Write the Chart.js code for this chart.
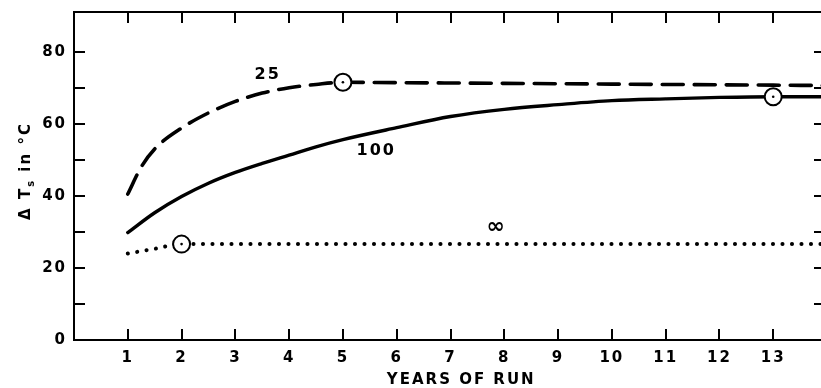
<!DOCTYPE html>
<html>
<head>
<meta charset="utf-8">
<script src="https://cdn.jsdelivr.net/npm/chart.js@4/dist/chart.umd.min.js"></script>
<style>
  html, body { margin: 0; padding: 0; background: #fff; overflow: hidden; }
  #wrap { width: 827px; height: 388px; }
</style>
</head>
<body>
<div id="wrap"><canvas id="c" width="827" height="388"></canvas></div>
<script>
// Surface temperature rise (deg C) against years of run, one curve per case
const years25  = [1, 1.25, 1.5, 2, 2.5, 3, 3.5, 4, 4.5, 5, 6, 7, 8, 9, 10, 11, 12, 13, 14];
const dT25     = [40.5, 48, 53, 58.8, 63, 66.2, 68.5, 70, 70.9, 71.5, 71.4, 71.3, 71.2, 71.1, 71, 70.9, 70.8, 70.7, 70.6];

const years100 = [1, 1.5, 2, 2.5, 3, 3.5, 4, 4.5, 5, 6, 7, 8, 9, 10, 11, 12, 13, 14];
const dT100    = [29.8, 35.3, 39.8, 43.5, 46.5, 49, 51.3, 53.6, 55.6, 58.9, 62, 64, 65.3, 66.4, 66.9, 67.3, 67.5, 67.5];

const yearsInf = [1, 1.5, 2, 14];
const dTInf    = [24, 25.3, 26.6, 26.6];

// circled points on the curves
const markYears = [2, 5, 13];
const markDT    = [26.6, 71.5, 67.5];

// axis ticks
const xTickValues  = [1, 2, 3, 4, 5, 6, 7, 8, 9, 10, 11, 12, 13];
const yTickValues  = [0, 20, 40, 60, 80];
const yMinorValues = [10, 30, 50, 70];

const curveNames = ['25', '100', '\u221E'];

const toPoints = (xs, ys) => xs.map((x, i) => ({ x: x, y: ys[i] }));

const FONT = '"DejaVu Sans", "Liberation Sans", sans-serif';

// inward tick marks on all four sides plus the frame lines
const framePlugin = {
  id: 'frameTicks',
  afterDatasetsDraw(chart) {
    const { ctx, chartArea: a, scales: { x, y } } = chart;
    const len = 11;
    ctx.save();
    ctx.strokeStyle = '#000';
    ctx.lineWidth = 2;
    ctx.lineCap = 'butt';
    ctx.beginPath();
    ctx.moveTo(a.right + 2, a.top);
    ctx.lineTo(a.left, a.top);
    ctx.lineTo(a.left, a.bottom);
    ctx.lineTo(a.right + 2, a.bottom);
    ctx.moveTo(a.right, a.top);
    ctx.lineTo(a.right, a.bottom);
    xTickValues.forEach(v => {
      const px = Math.round(x.getPixelForValue(v));
      ctx.moveTo(px, a.bottom);
      ctx.lineTo(px, a.bottom - len);
      ctx.moveTo(px, a.top);
      ctx.lineTo(px, a.top + len);
    });
    yTickValues.concat(yMinorValues).forEach(v => {
      if (v === 0) return;
      const py = Math.round(y.getPixelForValue(v));
      ctx.moveTo(a.left, py);
      ctx.lineTo(a.left + len, py);
      ctx.moveTo(a.right, py);
      ctx.lineTo(a.right - len - 2, py);
    });
    ctx.stroke();
    ctx.restore();
  }
};

// curve names and axis titles
const textPlugin = {
  id: 'chartText',
  afterDraw(chart, args, opts) {
    const { ctx, chartArea: a, scales: { x, y } } = chart;
    ctx.save();
    ctx.fillStyle = '#000';
    ctx.letterSpacing = '2px';
    ctx.textAlign = 'center';
    ctx.textBaseline = 'middle';

    opts.labels.forEach((lab, i) => {
      ctx.font = lab.font;
      ctx.fillText(curveNames[i], x.getPixelForValue(lab.at[0]), y.getPixelForValue(lab.at[1]));
    });

    // x axis title
    ctx.font = 'bold 15px ' + FONT;
    ctx.fillText('YEARS OF RUN', x.getPixelForValue(7.2), 380);

    // y axis title, rotated, with subscript s
    ctx.translate(25, (a.top + a.bottom) / 2 - 5);
    ctx.rotate(-Math.PI / 2);
    ctx.textAlign = 'left';
    ctx.textBaseline = 'alphabetic';
    const big = 'bold 15px ' + FONT, small = 'bold 10px ' + FONT;
    const parts = [['\u0394 T', big, 0], ['s', small, 4], [' in \u00B0C', big, 0]];
    let total = 0;
    parts.forEach(p => { ctx.font = p[1]; total += ctx.measureText(p[0]).width; });
    let cx = -total / 2;
    parts.forEach(p => {
      ctx.font = p[1];
      ctx.fillText(p[0], cx, 5 + p[2]);
      cx += ctx.measureText(p[0]).width;
    });
    ctx.restore();
  }
};

const curveStyle = {
  borderColor: '#000',
  pointRadius: 0,
  cubicInterpolationMode: 'monotone',
  fill: false,
  borderCapStyle: 'round',
  borderJoinStyle: 'round'
};

new Chart(document.getElementById('c'), {
  type: 'line',
  data: {
    datasets: [
      {
        label: 'marker centres',
        data: toPoints(markYears, markDT),
        showLine: false,
        pointRadius: 1.3,
        pointBackgroundColor: '#000',
        pointBorderWidth: 0,
        order: 0
      },
      {
        label: 'markers',
        data: toPoints(markYears, markDT),
        showLine: false,
        pointRadius: 8.5,
        pointBackgroundColor: '#fff',
        pointBorderColor: '#000',
        pointBorderWidth: 2,
        order: 1
      },
      Object.assign({
        label: curveNames[0],
        data: toPoints(years25, dT25),
        borderWidth: 3.6,
        borderDash: [21, 11],
        order: 2
      }, curveStyle),
      Object.assign({
        label: curveNames[1],
        data: toPoints(years100, dT100),
        borderWidth: 3.4,
        order: 3
      }, curveStyle),
      Object.assign({
        label: curveNames[2],
        data: toPoints(yearsInf, dTInf),
        borderWidth: 4,
        borderDash: [0.1, 9.4],
        order: 4
      }, curveStyle)
    ]
  },
  options: {
    responsive: false,
    animation: false,
    events: [],
    layout: { autoPadding: false, padding: { top: 12, left: 0, right: 0, bottom: 0 } },
    plugins: {
      legend: { display: false },
      tooltip: { enabled: false },
      chartText: {
        labels: [
          { at: [3.6, 73.6], font: 'bold 16px ' + FONT },
          { at: [5.62, 52.6], font: 'bold 16px ' + FONT },
          { at: [7.86, 31.4], font: 'bold 22px ' + FONT }
        ]
      }
    },
    scales: {
      x: {
        type: 'linear',
        min: 0,
        max: 14,
        afterBuildTicks: s => { s.ticks = xTickValues.map(v => ({ value: v })); },
        afterFit: s => { s.height = 48; s.paddingLeft = 0; s.paddingRight = 0; },
        grid: { display: false, drawTicks: false },
        border: { display: false },
        ticks: {
          color: '#000',
          padding: 9,
          maxRotation: 0,
          autoSkip: false,
          font: { family: FONT, size: 15, weight: 'bold' }
        }
      },
      y: {
        type: 'linear',
        min: 0,
        max: 91,
        afterBuildTicks: s => { s.ticks = yTickValues.map(v => ({ value: v })); },
        afterFit: s => { s.width = 74; s.paddingTop = 0; s.paddingBottom = 0; },
        grid: { display: false, drawTicks: false },
        border: { display: false },
        ticks: {
          color: '#000',
          padding: 7,
          autoSkip: false,
          font: { family: FONT, size: 15, weight: 'bold' }
        }
      }
    }
  },
  plugins: [framePlugin, textPlugin, {
    id: 'spacing',
    beforeDraw(chart) { chart.ctx.letterSpacing = '2px'; }
  }]
});
</script>
</body>
</html>
